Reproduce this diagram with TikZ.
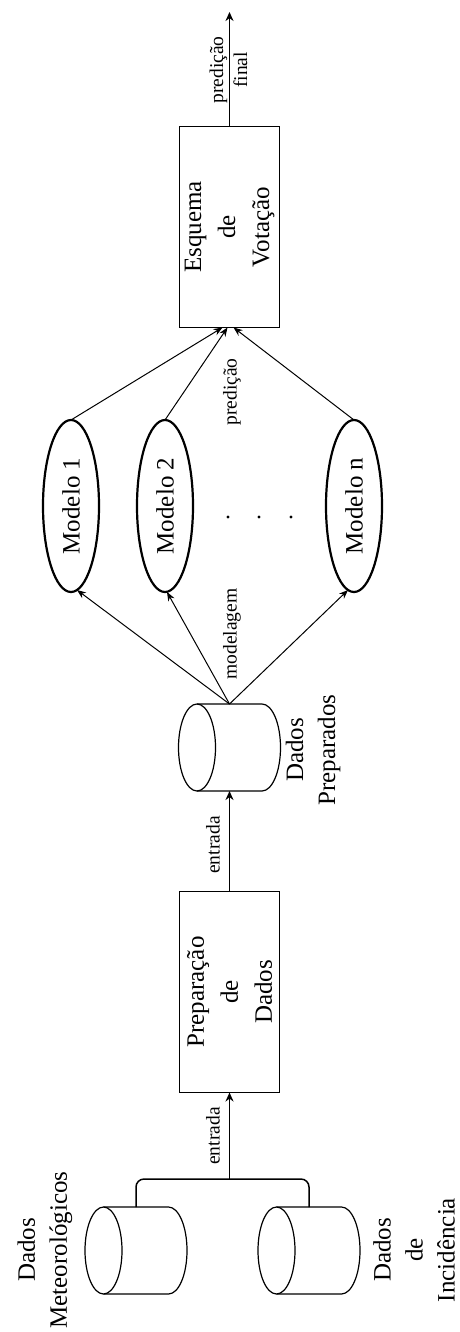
\documentclass[tikz,border=0pt]{standalone}
\usepackage{fontspec}
\setmainfont{Liberation Serif}
\usetikzlibrary{arrows.meta,shapes.geometric,calc}
\newcommand\bigf{\fontsize{25}{34}\selectfont}
\newcommand\labf{\fontsize{25}{32}\selectfont}
\newcommand\smallf{\fontsize{19.5}{24}\selectfont}
\newcommand\drawcyl[2]{%
  \draw[cylline] (#1-32.5,#2) ellipse [x radius=18.5, y radius=43.5];
  \draw[cylline] (#1-32.5,#2-43.5) -- (#1+32.5,#2-43.5)
    arc[start angle=-90,end angle=90,x radius=18.5,y radius=43.5] -- (#1-32.5,#2+43.5);
}
\begin{document}
\begin{tikzpicture}[x=1pt,y=-1pt,
  every node/.style={inner sep=0pt, outer sep=0pt},
  lbl/.style={rotate=90, align=center, font=\labf},
  slbl/.style={rotate=90, align=center, font=\smallf},
  procbox/.style={draw, line width=1.3pt, rotate=90, minimum width=201pt, minimum height=100pt, align=center, font=\bigf},
  model/.style={draw, ellipse, line width=2.2pt, rotate=90, minimum width=172pt, minimum height=56pt, font=\bigf},
  cylbox/.style={minimum width=102pt, minimum height=87pt},
  cylline/.style={line width=1.2pt},
  arr/.style={line width=1.5pt, -{Stealth[length=9pt,width=8pt]}},
  fan/.style={line width=1pt, -{Stealth[length=9pt,width=7pt]}},
  joinline/.style={line width=1.5pt, rounded corners=8pt}
]
\useasboundingbox (0,0) rectangle (460,1332);
\fill[white] (0,0) rectangle (460,1332);

% cylinders
\node[cylbox] (dm) at (136,1250.5) {};
\drawcyl{136}{1250.5}
\node[cylbox] (di) at (309,1250.5) {};
\drawcyl{309}{1250.5}
\node[cylbox] (dp) at (229.5,747.5) {};
\drawcyl{229.5}{747.5}

% boxes
\node[procbox] (prep) at (229.5,992) {Preparação\\de\\Dados};
\node[procbox] (esq) at (229.5,227) {Esquema\\de\\Votação};

% models
\node[model] (m1) at (71,506) {Modelo 1};
\node[model] (m2) at (165,506) {Modelo 2};
\node[model] (mn) at (354,506) {Modelo n};
\fill (228,517) circle (1.7);
\fill (259,517) circle (1.7);
\fill (291,517) circle (1.7);

% labels
\node[lbl] (tdm) at (45,1250) {Dados\\Meteorológicos};
\node[lbl] (tdi) at (414,1250) {Dados\\de\\Incidência};
\node[lbl] (tdp) at (313,750) {Dados\\Preparados};
\node[slbl] (l1) at (213,1136) {entrada};
\node[slbl] (l2) at (213,845) {entrada};
\node[slbl] (l3) at (232,634) {modelagem};
\node[slbl] (l4) at (232,392) {predição};
\node[slbl] (l5) at (228.5,70) {predição\\final};

% connectors
\coordinate (j) at (229.5,1179);
\coordinate (out) at (229.5,12);
\draw[joinline] (dm.north) |- (j) -| (di.north);
\draw[arr] (j) -- (prep.west);
\draw[arr] (prep.east) -- (dp.south);
\draw[fan] (dp.north) -- ($(m1.west)+(6,-2)$);
\draw[fan] (dp.north) -- ($(m2.west)+(2,0)$);
\draw[fan] (dp.north) -- ($(mn.west)+(-6,-2)$);
\draw[fan] (m1.east) -- ($(esq.west)+(-7,0)$);
\draw[fan] (m2.east) -- ($(esq.west)+(-2,0)$);
\draw[fan] (mn.east) -- ($(esq.west)+(4,0)$);
\draw[arr] (esq.east) -- (out);
\end{tikzpicture}
\end{document}
